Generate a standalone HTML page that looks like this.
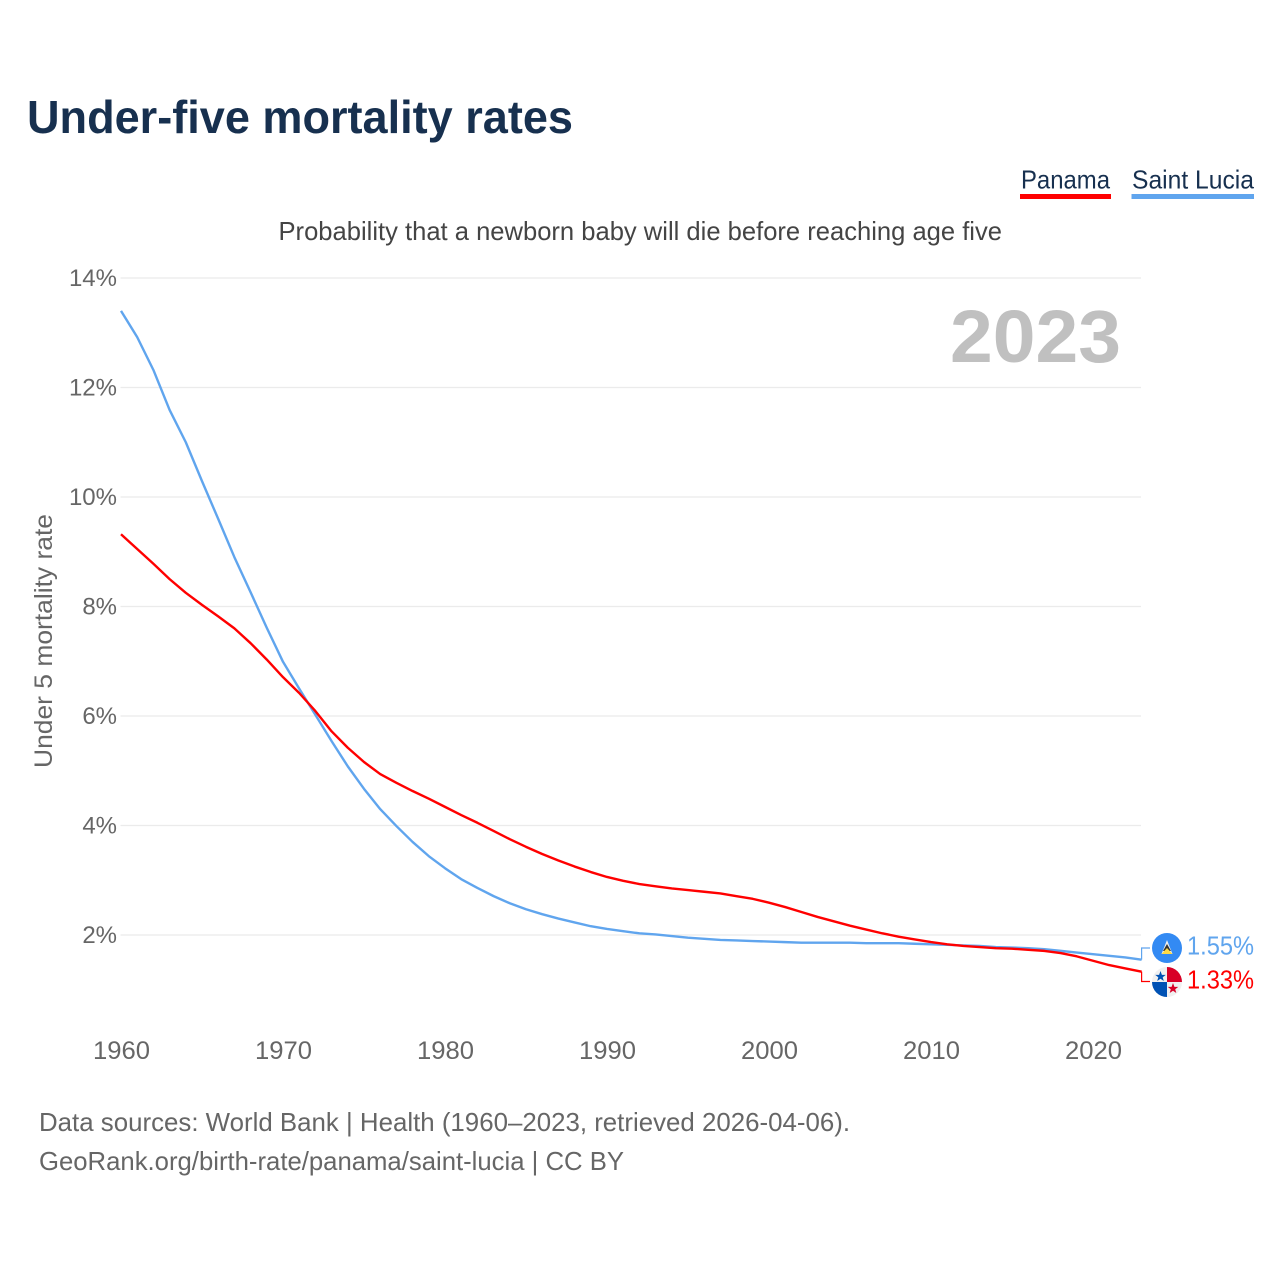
<!DOCTYPE html>
<html lang="en">
<head>
<meta charset="utf-8">
<title>Under-five mortality rates</title>
<style>
html,body{margin:0;padding:0;background:#fff;}
svg{display:block;}
text{font-family:"Liberation Sans",sans-serif;}
</style>
</head>
<body>
<svg id="chart" xmlns="http://www.w3.org/2000/svg" width="1280" height="1280" viewBox="0 0 1280 1280">
  <rect x="0" y="0" width="1280" height="1280" fill="#ffffff"/>
  <text x="27" y="133" font-size="46" font-weight="700" fill="#17304f" textLength="546" lengthAdjust="spacingAndGlyphs">Under-five mortality rates</text>

  <g>
    <text x="1021" y="188.5" font-size="26" fill="#17304f" textLength="89" lengthAdjust="spacingAndGlyphs">Panama</text>
    <rect x="1020" y="194" width="91" height="5" fill="#ff0000"/>
  </g>
  <g>
    <text x="1132" y="188.5" font-size="26" fill="#17304f" textLength="122" lengthAdjust="spacingAndGlyphs">Saint Lucia</text>
    <rect x="1131.5" y="194" width="122.5" height="5" fill="#60a5ee"/>
  </g>

  <text x="278.5" y="240" font-size="26" fill="#444444" textLength="723.5" lengthAdjust="spacingAndGlyphs">Probability that a newborn baby will die before reaching age five</text>
  <text transform="translate(52,768) rotate(-90)" x="0" y="0" font-size="25" fill="#666666" textLength="254" lengthAdjust="spacingAndGlyphs">Under 5 mortality rate</text>

  <g id="grid"></g>
  <g id="yticks"></g>
  <g id="xticks"></g>

  <text x="950" y="362" font-size="74" font-weight="700" fill="#c0c0c0" textLength="171" lengthAdjust="spacingAndGlyphs">2023</text>

  <g id="series"></g>

  <g>
    <circle cx="1167" cy="948" r="15" fill="#338af3"/>
    <polygon points="1167,940 1172.5,954 1161.5,954" fill="#f0f0f0"/>
    <polygon points="1167,944 1171,951 1163,951" fill="#333333"/>
    <polygon points="1167,948 1172.5,954 1161.5,954" fill="#ffda44"/>
  </g>
  <g>
    <circle cx="1167" cy="982" r="15" fill="#f0f0f0"/>
    <path d="M1167 982 V967 A15 15 0 0 1 1182 982 Z" fill="#d80027"/>
    <path d="M1167 982 V997 A15 15 0 0 1 1152 982 Z" fill="#0052b4"/>
    <polygon points="1160.5,971 1161.9,974.9 1165.8,974.9 1162.7,977.2 1163.8,981 1160.5,978.8 1157.2,981 1158.3,977.2 1155.2,974.9 1159.1,974.9" fill="#0052b4"/>
    <polygon points="1173,983 1174.4,986.9 1178.3,986.9 1175.2,989.2 1176.3,993 1173,990.8 1169.7,993 1170.8,989.2 1167.7,986.9 1171.6,986.9" fill="#d80027"/>
  </g>

  <text x="39" y="1131" font-size="26" fill="#666666" textLength="811" lengthAdjust="spacingAndGlyphs">Data sources: World Bank | Health (1960–2023, retrieved 2026-04-06).</text>
  <text x="39" y="1170" font-size="26" fill="#666666" textLength="585" lengthAdjust="spacingAndGlyphs">GeoRank.org/birth-rate/panama/saint-lucia | CC BY</text>
</svg>

<script>
const startYear = 1960;
const yTickValues = [2, 4, 6, 8, 10, 12, 14];
const xTickYears = [1960, 1970, 1980, 1990, 2000, 2010, 2020];
const panamaValues = [
  9.32, 9.05, 8.78, 8.50, 8.25, 8.03, 7.82, 7.60, 7.33, 7.03,
  6.71, 6.42, 6.09, 5.72, 5.42, 5.16, 4.94, 4.78, 4.63, 4.49,
  4.34, 4.19, 4.05, 3.90, 3.75, 3.61, 3.48, 3.36, 3.25, 3.15,
  3.06, 2.99, 2.93, 2.89, 2.85, 2.82, 2.79, 2.76, 2.71, 2.66,
  2.59, 2.51, 2.42, 2.33, 2.25, 2.17, 2.10, 2.03, 1.97, 1.92,
  1.87, 1.83, 1.80, 1.78, 1.76, 1.75, 1.73, 1.71, 1.67, 1.61,
  1.53, 1.45, 1.39, 1.33
];
const saintLuciaValues = [
  13.40, 12.92, 12.32, 11.59, 11.00, 10.29, 9.60, 8.90, 8.26, 7.61,
  6.99, 6.50, 6.02, 5.54, 5.08, 4.67, 4.30, 3.99, 3.70, 3.44,
  3.22, 3.02, 2.86, 2.71, 2.58, 2.47, 2.38, 2.30, 2.23, 2.16,
  2.11, 2.07, 2.03, 2.01, 1.98, 1.95, 1.93, 1.91, 1.90, 1.89,
  1.88, 1.87, 1.86, 1.86, 1.86, 1.86, 1.85, 1.85, 1.85, 1.84,
  1.83, 1.82, 1.81, 1.80, 1.78, 1.77, 1.76, 1.74, 1.71, 1.68,
  1.65, 1.62, 1.59, 1.55
];

const SVG_NS = 'http://www.w3.org/2000/svg';
const RED = '#ff0000';
const BLUE = '#60a5ee';
function xScale(year) { return 121 + (year - 1960) * 16.2; }
function yScale(v) { return 935 - (v - 2) * 54.75; }
function make(tag, attrs, parent) {
  const el = document.createElementNS(SVG_NS, tag);
  for (const k in attrs) el.setAttribute(k, attrs[k]);
  parent.appendChild(el);
  return el;
}

const gridGroup = document.getElementById('grid');
const yTickGroup = document.getElementById('yticks');
yTickValues.forEach(function (v) {
  const line = make('line', { x1: 120.5, x2: 1141, y1: yScale(v), y2: yScale(v), stroke: '#ebebeb', 'stroke-width': 1.3 }, gridGroup);
  
  
  const label = make('text', { x: 117, y: yScale(v) + 8, 'text-anchor': 'end', 'font-size': 24, fill: '#666666' }, yTickGroup);
  label.textContent = v + '%';
  
  
});

const xTickGroup = document.getElementById('xticks');
xTickYears.forEach(function (year) {
  const label = make('text', { x: xScale(year) + 0.5 - 28.5, y: 1059, 'font-size': 25, fill: '#666666', textLength: 57, lengthAdjust: 'spacingAndGlyphs' }, xTickGroup);
  label.textContent = String(year);
  
  
});

const seriesGroup = document.getElementById('series');
function drawSeries(values, color) {
  const pts = values.map(function (v, i) {
    return xScale(startYear + i).toFixed(2) + ',' + yScale(v).toFixed(2);
  }).join(' ');
  return make('polyline', { points: pts, fill: 'none', stroke: color, 'stroke-width': 2.4, 'stroke-linejoin': 'round' }, seriesGroup);
}
function drawLeader(values, color, flagY) {
  const last = values[values.length - 1];
  const endX = xScale(startYear + values.length - 1);
  return make('polyline', { points: endX + ',' + yScale(last) + ' ' + endX + ',' + flagY + ' 1150,' + flagY, fill: 'none', stroke: color, 'stroke-width': 1.2 }, seriesGroup);
}
function drawValue(values, color, baseline) {
  const last = values[values.length - 1];
  const t = make('text', { x: 1187, y: baseline, 'font-size': 26, fill: color, textLength: 67, lengthAdjust: 'spacingAndGlyphs' }, seriesGroup);
  t.textContent = last.toFixed(2) + '%';
  return t;
}

const leaderLucia = drawLeader(saintLuciaValues, BLUE, 948);


const leaderPanama = drawLeader(panamaValues, RED, 981.5);


const lineLucia = drawSeries(saintLuciaValues, BLUE);


const linePanama = drawSeries(panamaValues, RED);


const valueLucia = drawValue(saintLuciaValues, BLUE, 954.5);


const valuePanama = drawValue(panamaValues, RED, 988.5);


</script>
</body>
</html>
